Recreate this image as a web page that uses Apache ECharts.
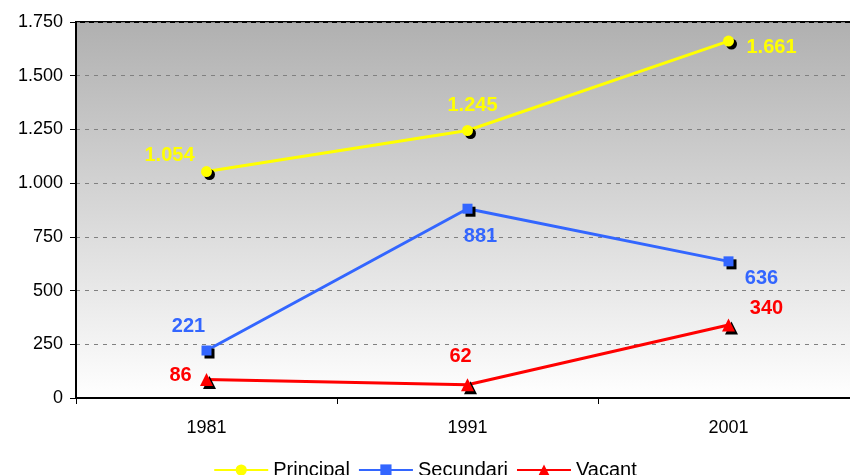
<!DOCTYPE html>
<html>
<head>
<meta charset="utf-8">
<script src="https://cdn.jsdelivr.net/npm/echarts@6/dist/echarts.min.js"></script>
<style>
  html, body { margin: 0; padding: 0; background: #fff; }
  #main { width: 850px; height: 475px; }
</style>
</head>
<body>
<div id="main"></div>
<script>
var years = ['1981', '1991', '2001'];
var principal = [1054, 1245, 1661];
var secundari = [221, 881, 636];
var vacant = [86, 62, 340];
var yTicks = [0, 250, 500, 750, 1000, 1250, 1500, 1750];

// label offsets from each point (px)
var offPrincipal = [[-37, -16], [5, -25], [43, 6]];
var offSecundari = [[-18, -24], [13, 28], [33, 17]];
var offVacant = [[-26, -4], [-7, -28], [38, -16]];

function fmt(v) {
  return String(v).replace(/\B(?=(\d{3})+(?!\d))/g, '.');
}

function points(values, offs, color) {
  return values.map(function (v, i) {
    return {
      value: v,
      label: {
        show: true,
        position: 'inside',
        offset: offs[i],
        color: color,
        fontWeight: 'bold',
        fontSize: 20,
        fontFamily: 'Liberation Sans, Arial',
        formatter: function (p) { return fmt(p.value); }
      }
    };
  });
}

function makeSeries(name, values, offs, color, symbol, size) {
  return {
    name: name,
    type: 'line',
    data: points(values, offs, color),
    symbol: symbol,
    symbolSize: size,
    lineStyle: { color: color, width: 3 },
    itemStyle: {
      color: color,
      shadowColor: '#000',
      shadowOffsetX: 3,
      shadowOffsetY: 3,
      shadowBlur: 0
    },
    emphasis: { disabled: true },
    animation: false,
    z: 3
  };
}

var chart = echarts.init(document.getElementById('main'));

var option = {
  backgroundColor: '#fff',
  grid: {
    left: 76,
    top: 22,
    width: 783,
    bottom: 77,
    containLabel: false,
    outerBoundsMode: 'none',
    show: true,
    borderColor: '#000',
    borderWidth: 2,
    backgroundColor: new echarts.graphic.LinearGradient(0, 0, 0, 1, [
      { offset: 0, color: '#b0b0b0' },
      { offset: 1, color: '#ffffff' }
    ])
  },
  legend: {
    top: 455,
    left: 'center',
    itemWidth: 54,
    itemHeight: 14,
    itemGap: 8,
    textStyle: { fontSize: 20, color: '#000', fontFamily: 'Liberation Sans, Arial' },
    data: ['Principal', 'Secundari', 'Vacant']
  },
  xAxis: {
    type: 'category',
    data: years,
    boundaryGap: true,
    axisLine: { lineStyle: { color: '#000', width: 2 } },
    axisTick: { show: true, length: 6, lineStyle: { color: '#000', width: 1 } },
    axisLabel: { fontSize: 18, color: '#000', margin: 21, fontFamily: 'Liberation Sans, Arial' }
  },
  yAxis: {
    type: 'value',
    min: yTicks[0],
    max: yTicks[yTicks.length - 1],
    interval: 250,
    axisLine: { show: true, lineStyle: { color: '#000', width: 2 } },
    axisTick: { show: true, length: 6, lineStyle: { color: '#000', width: 1 } },
    axisLabel: {
      fontSize: 18,
      color: '#000',
      margin: 13,
      fontFamily: 'Liberation Sans, Arial',
      formatter: function (v) { return fmt(v); }
    },
    splitLine: { lineStyle: { color: '#808080', type: [4, 5], width: 1 } }
  },
  series: [
    makeSeries('Principal', principal, offPrincipal, '#ffff00', 'circle', 11),
    makeSeries('Secundari', secundari, offSecundari, '#3366ff', 'rect', 10),
    makeSeries('Vacant', vacant, offVacant, '#ff0000', 'triangle', 13)
  ]
};

chart.setOption(option);
</script>
</body>
</html>
